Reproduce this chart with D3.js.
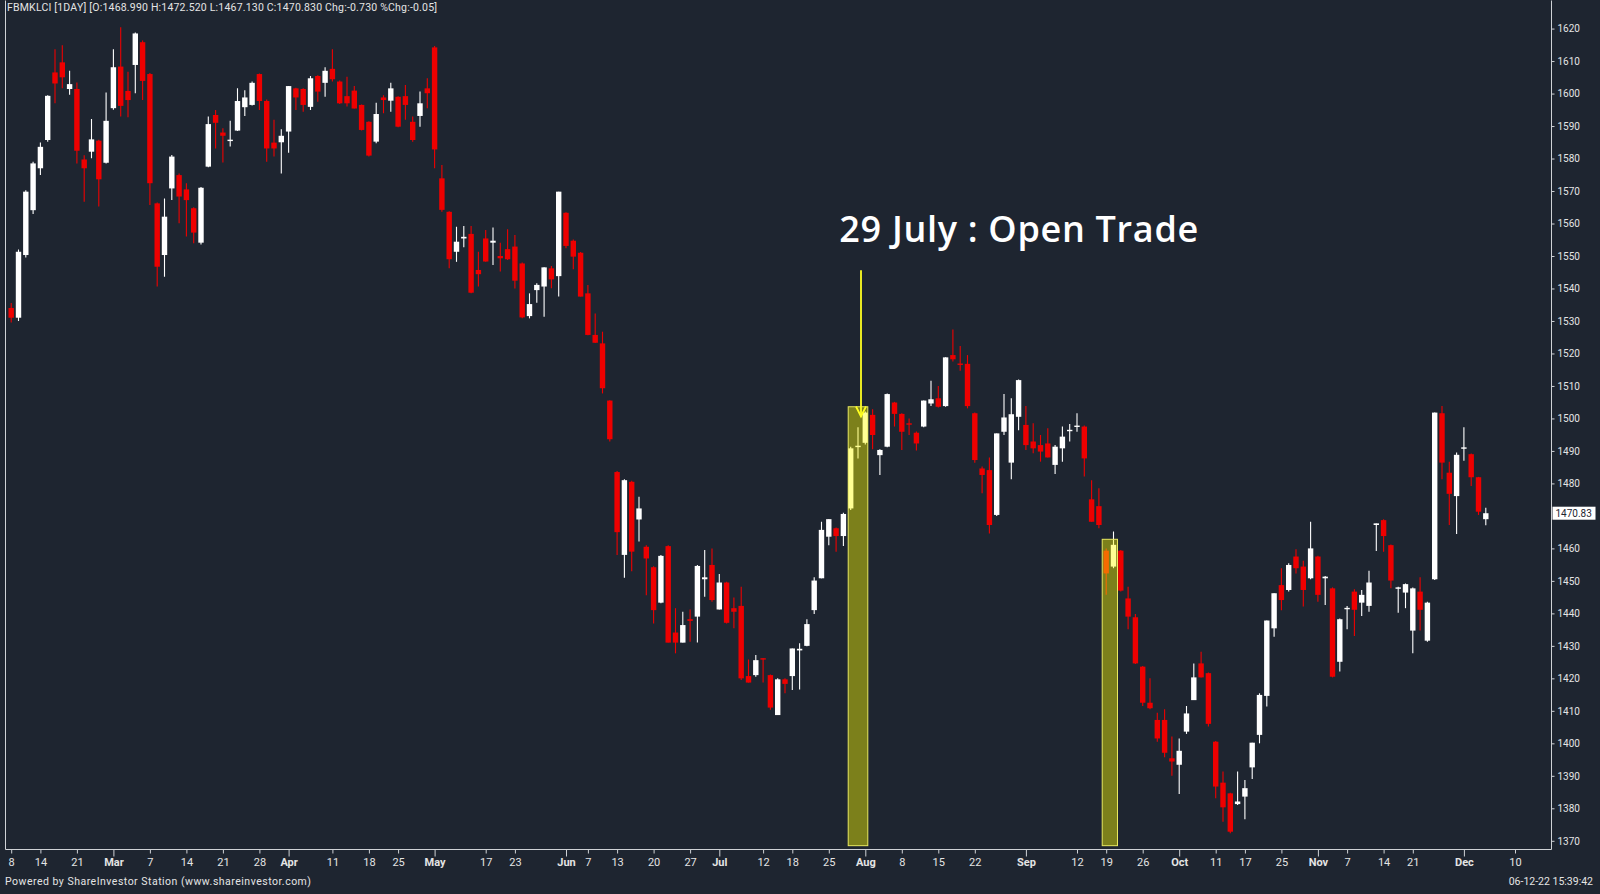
<!DOCTYPE html>
<html><head><meta charset="utf-8">
<script src="https://cdn.jsdelivr.net/npm/d3@7/dist/d3.min.js"></script>
<style>
html,body{margin:0;padding:0;background:#1e2530;overflow:hidden}
svg{display:block}
</style></head>
<body>
<svg id="chart" width="1600" height="894"></svg>
<script>
// ---------------- DATA ----------------
const dates = [
"2022-02-08","2022-02-09","2022-02-10","2022-02-11","2022-02-14","2022-02-15","2022-02-16","2022-02-17","2022-02-18","2022-02-21","2022-02-22","2022-02-23","2022-02-24","2022-02-25","2022-02-28",
"2022-03-01","2022-03-02","2022-03-03","2022-03-04","2022-03-07","2022-03-08","2022-03-09","2022-03-10","2022-03-11","2022-03-14","2022-03-15","2022-03-16","2022-03-17","2022-03-18","2022-03-21","2022-03-22","2022-03-23","2022-03-24","2022-03-25","2022-03-28","2022-03-29","2022-03-30","2022-03-31",
"2022-04-01","2022-04-04","2022-04-05","2022-04-06","2022-04-07","2022-04-08","2022-04-11","2022-04-12","2022-04-13","2022-04-14","2022-04-15","2022-04-18","2022-04-20","2022-04-21","2022-04-22","2022-04-25","2022-04-26","2022-04-27","2022-04-28","2022-04-29",
"2022-05-05","2022-05-06","2022-05-09","2022-05-10","2022-05-11","2022-05-12","2022-05-13","2022-05-17","2022-05-18","2022-05-19","2022-05-20","2022-05-23","2022-05-24","2022-05-25","2022-05-26","2022-05-27","2022-05-30","2022-05-31",
"2022-06-01","2022-06-02","2022-06-03","2022-06-07","2022-06-08","2022-06-09","2022-06-10","2022-06-13","2022-06-14","2022-06-15","2022-06-16","2022-06-17","2022-06-20","2022-06-21","2022-06-22","2022-06-23","2022-06-24","2022-06-27","2022-06-28","2022-06-29","2022-06-30",
"2022-07-01","2022-07-04","2022-07-05","2022-07-06","2022-07-07","2022-07-08","2022-07-12","2022-07-13","2022-07-14","2022-07-15","2022-07-18","2022-07-19","2022-07-20","2022-07-21","2022-07-22","2022-07-25","2022-07-26","2022-07-27","2022-07-28","2022-07-29",
"2022-08-01","2022-08-02","2022-08-03","2022-08-04","2022-08-05","2022-08-08","2022-08-09","2022-08-10","2022-08-11","2022-08-12","2022-08-15","2022-08-16","2022-08-17","2022-08-18","2022-08-19","2022-08-22","2022-08-23","2022-08-24","2022-08-25","2022-08-26","2022-08-29","2022-08-30",
"2022-09-01","2022-09-02","2022-09-05","2022-09-06","2022-09-07","2022-09-08","2022-09-09","2022-09-12","2022-09-13","2022-09-14","2022-09-15","2022-09-19","2022-09-20","2022-09-21","2022-09-22","2022-09-23","2022-09-26","2022-09-27","2022-09-28","2022-09-29","2022-09-30",
"2022-10-03","2022-10-04","2022-10-05","2022-10-06","2022-10-07","2022-10-11","2022-10-12","2022-10-13","2022-10-14","2022-10-17","2022-10-18","2022-10-19","2022-10-20","2022-10-21","2022-10-25","2022-10-26","2022-10-27","2022-10-28","2022-10-31",
"2022-11-01","2022-11-02","2022-11-03","2022-11-04","2022-11-07","2022-11-08","2022-11-09","2022-11-10","2022-11-11","2022-11-14","2022-11-15","2022-11-16","2022-11-17","2022-11-21","2022-11-22","2022-11-23","2022-11-24","2022-11-25","2022-11-29","2022-11-30",
"2022-12-01","2022-12-02","2022-12-05","2022-12-06"
];
const futureDates = ["2022-12-07","2022-12-08","2022-12-09","2022-12-10"];

const openValues = [
1534,1531,1550.3,1564.1,1577,1585.7,1606.5,1609.6,1601.4,1601.4,
1579.7,1582.1,1585.5,1578.7,1595.5,1608.3,1600.8,1608.8,1615.8,1606,
1566.2,1550.3,1570.8,1574.9,1570.5,1564.7,1554.1,1577.5,1593.4,1588,
1585.5,1588.6,1595.8,1596.5,1606,1597.7,1584.9,1585,1588.3,1601.6,
1601.4,1595.9,1605.4,1603.3,1607.6,1603.7,1599.2,1600.9,1596.5,1591.3,
1585.2,1598.8,1597.8,1599,1599.2,1591.3,1593.1,1601.6,1614.2,1573.9,
1563.6,1551.3,1555.4,1556.8,1545.7,1555.4,1554.1,1550,1552.1,1552.9,
1547.7,1531.5,1539.5,1540.6,1546.2,1543.8,1563.3,1554.7,1551,1538.5,
1525.7,1523.1,1505.5,1483.5,1458,1480.5,1468.9,1460.5,1454.2,1443.3,
1460.7,1434.1,1431,1438.2,1439,1450.5,1454.9,1441.2,1449.5,1441.6,
1442.3,1420.7,1421,1426.2,1421,1408.7,1419.7,1420.7,1428.6,1430,
1441,1450.8,1463.6,1466.2,1463.8,1472.3,1491.2,1492.5,1501.1,1488.7,
1491.3,1504.9,1501.4,1498.5,1495.6,1497.5,1504.6,1506.2,1503.8,1519.5,
1516.9,1516.8,1501.6,1484.6,1484.1,1470.3,1495.9,1486.4,1500.5,1498,
1492.9,1491.8,1492.3,1485.7,1490.8,1496.3,1497.5,1497.5,1475.1,1473,
1459.3,1454.4,1459.3,1444.6,1438.8,1423.6,1412.5,1407.2,1407.2,1395.4,
1393.4,1403.6,1413.3,1424.6,1421.6,1400.5,1387.9,1384.6,1381.3,1383.6,
1392.6,1402.6,1414.6,1435.4,1448.7,1447.2,1457.5,1454.4,1450.8,1457.5,
1450.8,1447.7,1425.1,1441.4,1446.7,1443.3,1442.3,1467.2,1468.7,1461,
1447.7,1446.4,1434.7,1446.7,1431.6,1450.5,1501.6,1483.3,1476.1,1490.8,
1489,1481.9,1468.99
];
const highValues = [
1535.5,1552,1570.2,1579,1584.9,1599.5,1613.6,1614.9,1607,1603.4,
1581,1592.2,1585.8,1600.3,1613.6,1620.4,1606.7,1618.8,1616.3,1606.3,
1566.5,1567.7,1581.1,1575.4,1572.4,1565,1571.2,1592.9,1594.9,1589.3,
1591.6,1601.6,1601,1603.7,1606.2,1598.2,1591.9,1589,1602.3,1601.8,
1601.6,1605.4,1605.6,1608.1,1613.6,1604,1605.2,1602.3,1596.6,1591.5,
1597.2,1599.5,1603.3,1599.2,1602.6,1592.9,1600.6,1604.7,1614.6,1578,
1563.8,1559,1559.2,1559.2,1551.3,1558,1558.8,1554.1,1558.2,1556.5,
1548,1538.5,1541.6,1546.5,1546.9,1569.8,1563.5,1555.1,1551.2,1541.1,
1532.3,1526.7,1505.6,1483.8,1481.3,1480.8,1475.9,1461,1454.5,1458,
1461,1441.6,1440.5,1441.2,1454.9,1459.5,1460,1452.1,1449.7,1444.9,
1448.2,1425.8,1427.2,1426.2,1421.2,1420,1420,1429.2,1430.8,1438.2,
1451.1,1468.2,1469,1466.4,1471,1491.3,1497.3,1502.1,1502.8,1490.5,
1507.7,1505.1,1501.6,1500,1496,1505.5,1511.6,1510,1518.8,1527.4,
1522.3,1519.5,1501.8,1485.2,1488,1495.4,1507.5,1506.2,1512,1503.8,
1498.5,1494.9,1497,1491.8,1497.5,1498.3,1501.6,1497.8,1481,1478.5,
1460,1465.2,1459.5,1448.2,1439.8,1423.8,1420,1409.4,1410.5,1402.1,
1401.5,1411.5,1424.6,1428.2,1421.8,1400.7,1391.3,1384.8,1391.3,1388.7,
1400.2,1415.4,1437.8,1446.2,1453.9,1455.4,1459.7,1456.2,1468.2,1457.7,
1451.5,1448,1438.4,1442.3,1447.4,1447.2,1453.1,1467.7,1469,1461.2,
1448.2,1449.2,1448,1451.1,1443.6,1501.8,1503.8,1486.7,1489.5,1497.3,
1489.2,1482,1472.52
];
const lowValues = [
1529.5,1530,1549.5,1562.9,1574.9,1585.2,1597,1601.6,1599.6,1578.5,
1566.7,1580.1,1565.2,1578.5,1595,1592.9,1592.7,1600.1,1598,1565.7,
1540.6,1543.6,1567.2,1560.1,1556,1553.9,1553.5,1577.3,1583.1,1578.8,
1583.7,1588.5,1593.1,1596.3,1594.9,1579,1580.6,1575.4,1581.8,1594.9,
1594.4,1594.9,1597.5,1599,1603.7,1596.8,1596,1595.4,1588.6,1580.6,
1584.7,1593.9,1594.4,1589.6,1591.9,1585.2,1589.8,1595.5,1577,1563.6,
1546.2,1548.2,1552.7,1538.5,1540.6,1548.2,1547.2,1545.2,1548.8,1540,
1530.8,1530.8,1535.6,1531.3,1540.1,1537.5,1552.4,1545.9,1537.5,1525.6,
1523.2,1507.7,1492.9,1458,1451,1453,1462.1,1445.6,1436.9,1443.1,
1431,1427.7,1431,1431.3,1431,1445.1,1443.6,1441.2,1436.9,1435.4,
1419.5,1418.7,1420.5,1418.7,1410.3,1408.7,1415.4,1416.4,1416.6,1429.9,
1439.8,1450.8,1461,1459,1460.7,1471.8,1487.7,1492,1490.5,1482.6,
1491.1,1497.5,1490.3,1494.9,1490.1,1497.3,1503.8,1503.4,1503.6,1517.5,
1514.7,1503.1,1486.4,1477,1464.6,1470,1494.9,1481.3,1496.4,1490.3,
1489.3,1486.7,1488,1482.9,1486.7,1492.9,1495.9,1482.1,1468.2,1466.2,
1445.7,1453.9,1446.7,1435.1,1424.4,1411.5,1410.5,1400.5,1395.7,1390,
1384.4,1402.9,1413.3,1420.3,1405.2,1383.1,1375.9,1372.3,1381,1376.6,
1389,1400,1411.3,1432.8,1441,1446.7,1452.3,1442.1,1450.5,1443.6,
1442.6,1420.3,1422.1,1435.1,1433,1439.2,1440.5,1459.2,1459,1447.7,
1440.2,1441.6,1427.7,1434.7,1431.3,1450.3,1481.3,1467.2,1464.4,1487,
1479.2,1470.3,1467.13
];
const closeValues = [
1531,1551.3,1569.8,1578.5,1583.6,1599.3,1603.1,1605,1602.9,1582.4,
1577,1585.9,1573.6,1591.6,1608.1,1596.2,1598,1618.5,1603.9,1572.4,
1546.7,1562.1,1580.6,1568.3,1567.2,1557.2,1571,1590.6,1591,1587,
1585.8,1597.7,1598.8,1603.3,1597.7,1583.1,1583.1,1587,1602.3,1598.8,
1596.5,1604.7,1600.6,1607,1604.4,1597,1597,1595.4,1588.8,1580.9,
1593.7,1598,1601.6,1589.8,1596.5,1585.7,1597,1600.1,1582.8,1564.2,
1549,1554.4,1555.9,1538.7,1544.4,1548.3,1554.7,1549.3,1549,1542.4,
1531.1,1535.2,1541.1,1546.5,1542.8,1569.8,1553.1,1549.8,1537.5,1525.7,
1523.3,1509.3,1493.6,1465,1481,1459,1472.3,1456.9,1441,1457.7,
1431,1431,1436.4,1437.7,1454.6,1451.1,1444.1,1449.5,1437.1,1440.5,
1420,1418.7,1425.6,1425.9,1411,1419.7,1418.3,1429.2,1429.1,1436.7,
1450.1,1465.7,1469,1463.8,1470.6,1490.8,1491.6,1501.8,1494.9,1490.3,
1507.5,1501.4,1495.9,1498.2,1492.3,1505.5,1505.9,1503.6,1518.8,1518.2,
1516.6,1503.8,1487.2,1482.6,1467.2,1495.4,1500.3,1501.3,1511.8,1491.8,
1490.8,1489.8,1488,1491.3,1494.4,1496.5,1497.8,1487.7,1468.2,1467.2,
1452.3,1461.1,1447,1439,1424.6,1412.5,1410.8,1401.5,1397.1,1394.4,
1397.7,1409.2,1420.3,1420.3,1406,1386.7,1380.3,1372.8,1382.1,1386.2,
1400.2,1414.9,1437.8,1446.2,1444.1,1454.9,1453.9,1447.2,1460,1445.7,
1451.3,1420.5,1438.2,1441.7,1441.1,1445.7,1449.5,1467.7,1463.8,1450.1,
1448,1449,1447.7,1441.1,1443.3,1501.8,1486.4,1476.8,1488.8,1491.1,
1481.9,1471.3,1470.83
];

const tickDates = ["2022-02-08","2022-02-14","2022-02-21","2022-02-28","2022-03-07","2022-03-14","2022-03-21","2022-03-28","2022-04-01","2022-04-11","2022-04-18","2022-04-25","2022-05-05","2022-05-17","2022-05-23","2022-06-01","2022-06-07","2022-06-13","2022-06-20","2022-06-27","2022-07-01","2022-07-12","2022-07-18","2022-07-25","2022-08-01","2022-08-08","2022-08-15","2022-08-22","2022-09-01","2022-09-12","2022-09-19","2022-09-26","2022-10-03","2022-10-11","2022-10-17","2022-10-25","2022-11-01","2022-11-07","2022-11-14","2022-11-21","2022-12-01","2022-12-10"];
const tickLabels = ["8","14","21","Mar","7","14","21","28","Apr","11","18","25","May","17","23","Jun","7","13","20","27","Jul","12","18","25","Aug","8","15","22","Sep","12","19","26","Oct","11","17","25","Nov","7","14","21","Dec","10"];
const monthNames = ["Mar","Apr","May","Jun","Jul","Aug","Sep","Oct","Nov","Dec"];
// 1470 is hidden behind the last-price box in the reference
const priceTicks = [1370,1380,1390,1400,1410,1420,1430,1440,1450,1460,1480,1490,1500,1510,1520,1530,1540,1550,1560,1570,1580,1590,1600,1610,1620];

const headerText = "FBMKLCI [1DAY] [O:1468.990 H:1472.520 L:1467.130 C:1470.830 Chg:-0.730 %Chg:-0.05]";
const lastPrice = 1470.83;
const highlightStart = ["2022-07-28","2022-09-19"];
const highlightEnd = ["2022-08-01","2022-09-20"];
const highlightTop = [1503.6, 1462.8];
const highlightBottom = 1368.5;
const arrowDate = "2022-07-29";
const arrowFrom = 1545.6, arrowTo = 1500.6;
const annotationText = "29 July : Open Trade";
const footerLeft = "Powered by ShareInvestor Station (www.shareinvestor.com)";
const footerRight = "06-12-22 15:39:42";

// ---------------- LAYOUT ----------------
const W = 1600, H = 894;
const plotL = 5.5, plotR = 1551.5, plotT = 0.5, plotB = 849.5;
const BG = "#1e2530", RED = "#ee0000", WHITE = "#ffffff", TXT = "#e4e4e4";

const svg = d3.select("#chart");
svg.append("rect").attr("width", W).attr("height", H).attr("fill", BG);

const allDates = dates.concat(futureDates);
const x = d3.scalePoint().domain(allDates).range([11.2, 11.2 + (allDates.length - 1) * 7.3]);
const y = d3.scaleLinear().domain([1370, 1620]).range([840.8, 28.57]);

const candles = dates.map((d, i) => ({d, o: openValues[i], h: highValues[i], l: lowValues[i], c: closeValues[i]}));

svg.append("clipPath").attr("id", "plotclip").append("rect")
  .attr("x", plotL).attr("y", plotT).attr("width", plotR - plotL).attr("height", plotB - plotT);

const g = svg.append("g").attr("clip-path", "url(#plotclip)");
const bodyW = 5.4;
const cg = g.selectAll("g.c").data(candles).enter().append("g");
cg.append("line")
  .attr("x1", d => x(d.d)).attr("x2", d => x(d.d))
  .attr("y1", d => y(d.h)).attr("y2", d => y(d.l))
  .attr("stroke", d => d.c >= d.o ? WHITE : RED).attr("stroke-width", 1.1);
cg.append("rect")
  .attr("x", d => x(d.d) - bodyW / 2).attr("width", bodyW)
  .attr("y", d => y(Math.max(d.o, d.c)))
  .attr("height", d => Math.max(1.4, Math.abs(y(d.o) - y(d.c))))
  .attr("fill", d => d.c >= d.o ? WHITE : RED);

// highlight boxes
highlightStart.forEach((s, i) => {
  const pad = i === 0 ? 2.5 : 4;
  const x0 = x(s) - pad, x1 = x(highlightEnd[i]) + pad;
  g.append("rect").attr("x", x0).attr("y", y(highlightTop[i]))
    .attr("width", x1 - x0).attr("height", y(highlightBottom) - y(highlightTop[i]))
    .attr("fill", "rgba(255,255,0,0.42)").attr("stroke", "#e8e860").attr("stroke-width", 1);
});

// arrow
const ax = x(arrowDate) + 3;
g.append("line").attr("x1", ax).attr("x2", ax).attr("y1", y(arrowFrom)).attr("y2", y(arrowTo))
  .attr("stroke", "#ffff22").attr("stroke-width", 1.8);
g.append("path")
  .attr("d", `M${ax - 5},${y(arrowTo) - 10} L${ax},${y(arrowTo)} L${ax + 5},${y(arrowTo) - 10}`)
  .attr("fill", "none").attr("stroke", "#ffff22").attr("stroke-width", 1.8);

// annotation text
const ann = svg.append("text").attr("x", ax - 21.7).attr("y", 241.7)
  .attr("fill", "#ffffff").attr("font-family", "'Open Sans', sans-serif")
  .attr("font-weight", 600).attr("font-size", 36).text(annotationText);
function fitWidth(t, w) {
  const n = t.text().length;
  const len = t.node().getComputedTextLength();
  t.attr("letter-spacing", ((w - len) / (n - 1)).toFixed(3));
}
fitWidth(ann, 359);

// borders
svg.append("path")
  .attr("d", `M${plotL},${plotT} V${plotB} H${plotR} V${plotT}`)
  .attr("fill", "none").attr("stroke", "#cfd2d6").attr("stroke-width", 1);

// y axis (right)
const yAxis = svg.append("g").attr("transform", `translate(${plotR},0)`)
  .call(d3.axisRight(y).tickValues(priceTicks).tickFormat(d3.format("d")).tickSize(3).tickPadding(3));
yAxis.select(".domain").remove();
yAxis.selectAll("line").attr("stroke", "#cfd2d6");
yAxis.selectAll("text").attr("fill", TXT).attr("font-family", "Roboto, sans-serif").attr("font-size", 10);

// current price label
const lp = svg.append("g").attr("transform", `translate(${plotR + 1},${y(lastPrice)})`);
lp.append("rect").attr("x", 0).attr("y", -6.5).attr("width", 43).attr("height", 13).attr("fill", "#ffffff");
lp.append("text").attr("x", 3).attr("y", 0).attr("dy", "0.35em").attr("fill", "#1e2530")
  .attr("font-family", "Roboto, sans-serif").attr("font-size", 10).text(d3.format(".2f")(lastPrice));

// x axis
const xAxis = svg.append("g").attr("transform", `translate(0,${plotB})`)
  .call(d3.axisBottom(x).tickValues(tickDates).tickFormat((d, i) => tickLabels[i]).tickSize(4).tickPadding(5));
xAxis.select(".domain").remove();
xAxis.selectAll("line").attr("stroke", "#cfd2d6");
xAxis.selectAll("text").attr("fill", TXT).attr("font-family", "Roboto, sans-serif").attr("font-size", 11)
  .attr("font-weight", (d, i) => monthNames.includes(tickLabels[i]) ? 700 : 400);
xAxis.selectAll(".tick").filter((d, i) => monthNames.includes(tickLabels[i])).select("line").attr("y2", 7);

// header & footer
const hdr = svg.append("text").attr("x", 7).attr("y", 7).attr("dy", "0.35em").attr("fill", TXT)
  .attr("font-family", "Roboto, sans-serif").attr("font-size", 10.5).text(headerText);
fitWidth(hdr, 430);
const fl = svg.append("text").attr("x", 5).attr("y", 881).attr("dy", "0.35em").attr("fill", TXT)
  .attr("font-family", "Roboto, sans-serif").attr("font-size", 10.5).text(footerLeft);
fitWidth(fl, 306);
svg.append("text").attr("x", 1593).attr("y", 881).attr("dy", "0.35em").attr("fill", TXT)
  .attr("text-anchor", "end").attr("font-family", "Roboto, sans-serif").attr("font-size", 10.5).text(footerRight);
</script>
</body></html>
